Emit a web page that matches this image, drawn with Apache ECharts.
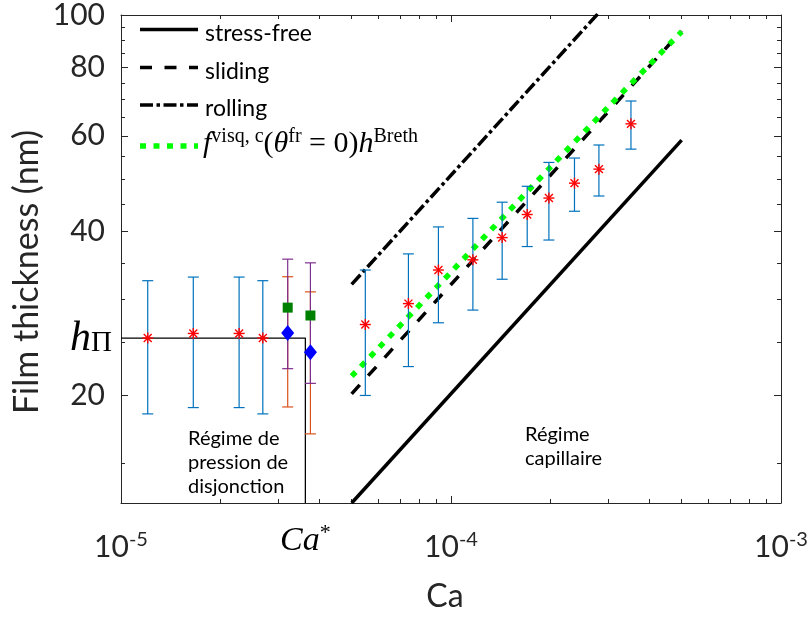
<!DOCTYPE html>
<html>
<head>
<meta charset="utf-8">
<script src="https://cdn.jsdelivr.net/npm/echarts@6/dist/echarts.min.js"></script>
<style>
html,body{margin:0;padding:0;background:#ffffff;}
#chart{width:811px;height:617px;}
</style>
</head>
<body>
<div id="chart"></div>
<script>
// ---------------- data ----------------
// main measurements (red asterisks, blue error bars)
const caMain  = [1.205e-5, 1.656e-5, 2.28e-5, 2.69e-5, 5.50e-5, 7.43e-5, 9.16e-5, 1.165e-4, 1.429e-4, 1.702e-4, 1.980e-4, 2.367e-4, 2.807e-4, 3.51e-4];
const hMain   = [25.5, 26.0, 26.0, 25.5, 27.0, 29.5, 34.0, 35.5, 39.0, 43.0, 46.1, 49.1, 52.1, 63.1];
const errMain = [7.0, 7.0, 7.0, 7.0, 7.0, 6.9, 6.8, 6.8, 6.3, 5.45, 7.5, 5.5, 5.6, 6.4];
// green squares (purple error bars)
const caSquare  = [3.20e-5, 3.75e-5];
const hSquare   = [29.0, 28.05];
const errSquare = [6.6, 7.0];
// blue diamonds (orange error bars)
const caDiamond  = [3.20e-5, 3.75e-5];
const hDiamond   = [26.05, 24.0];
const errDiamond = [7.0, 7.0];
// theoretical laws
const caTheory    = [5e-5, 5e-4];
const hStressFree = [12.69, 58.9];
const hSliding    = [20.14, 93.5];
const hRolling    = [32.0, 148.4];
const caBreth = [5e-5, 1e-4, 2e-4, 3e-4, 5e-4];
const hBreth  = [21.7, 33.7, 52.5, 67.8, 93.2];
// disjoining-pressure regime boundary
const hPi = 25.5;
const caStar = 3.62e-5;
// axis ranges and ticks
const caRange = [1e-5, 1e-3];
const hRange  = [12.69, 100];
const xMajorTicks = [1e-5, 1e-4, 1e-3];
const xMinorTicks = [2e-5, 3e-5, 4e-5, 5e-5, 6e-5, 7e-5, 8e-5, 9e-5, 2e-4, 3e-4, 4e-4, 5e-4, 6e-4, 7e-4, 8e-4, 9e-4];
const xDecadeExp  = [-5, -4, -3];
const yMajorTicks = [20, 40, 60, 80, 100];
const yMinorTicks = [15, 25, 30, 35, 45, 50, 55, 65, 70, 75, 85, 90, 95];
const legendNames = ['stress-free', 'sliding', 'rolling'];

// ---------------- chart ----------------
const L = Math.log10;
const AX = '#262626';
const SANS = 'Lato';
const SERIF = 'Liberation Serif';
const X0 = L(caRange[0]), X1 = L(caRange[1]);
const Y0 = L(hRange[0]), Y1 = L(hRange[1]);

function pts(xs, ys) { return xs.map((x, i) => [L(x), L(ys[i])]); }

function errSeries(xs, ys, es, color, z) {
  return {
    type: 'custom', z: z, silent: true, clip: false,
    encode: { x: 0, y: [1, 2] },
    data: xs.map((x, i) => [L(x), L(ys[i] - es[i]), L(ys[i] + es[i])]),
    renderItem: function (params, api) {
      const x = api.value(0);
      const lo = api.coord([x, api.value(1)]);
      const hi = api.coord([x, api.value(2)]);
      const w = 5.5;
      const st = { stroke: color, lineWidth: 1.2 };
      return { type: 'group', children: [
        { type: 'line', shape: { x1: lo[0], y1: lo[1], x2: hi[0], y2: hi[1] }, style: st },
        { type: 'line', shape: { x1: lo[0] - w, y1: lo[1], x2: lo[0] + w, y2: lo[1] }, style: st },
        { type: 'line', shape: { x1: hi[0] - w, y1: hi[1], x2: hi[0] + w, y2: hi[1] }, style: st }
      ]};
    }
  };
}

function asteriskSeries(xs, ys, color, z) {
  return {
    type: 'custom', z: z, silent: true, clip: false,
    encode: { x: 0, y: 1 },
    data: pts(xs, ys),
    renderItem: function (params, api) {
      const c = api.coord([api.value(0), api.value(1)]);
      const r = 5.5, d = r * 0.72;
      const st = { stroke: color, lineWidth: 1.4 };
      return { type: 'group', children: [
        { type: 'line', shape: { x1: c[0] - r, y1: c[1], x2: c[0] + r, y2: c[1] }, style: st },
        { type: 'line', shape: { x1: c[0], y1: c[1] - r, x2: c[0], y2: c[1] + r }, style: st },
        { type: 'line', shape: { x1: c[0] - d, y1: c[1] - d, x2: c[0] + d, y2: c[1] + d }, style: st },
        { type: 'line', shape: { x1: c[0] - d, y1: c[1] + d, x2: c[0] + d, y2: c[1] - d }, style: st }
      ]};
    }
  };
}

function near(a, b) { return Math.abs(a - b) < 1e-6; }

function baseX(pos, extra) {
  return Object.assign({
    type: 'value', min: X0, max: X1, position: pos, gridIndex: 0,
    axisLine: { show: false, onZero: false },
    axisTick: { show: false },
    axisLabel: { show: false },
    splitLine: { show: false }
  }, extra);
}
function baseY(pos, extra) {
  return Object.assign({
    type: 'value', min: Y0, max: Y1, position: pos, gridIndex: 0,
    axisLine: { show: false, onZero: false },
    axisTick: { show: false },
    axisLabel: { show: false },
    splitLine: { show: false }
  }, extra);
}

const majTick = (vals) => ({ show: true, inside: true, length: 7, customValues: vals, lineStyle: { color: AX, width: 1 } });
const minTick = (vals) => ({ show: true, inside: true, length: 4, customValues: vals, lineStyle: { color: AX, width: 1 } });
const line = { show: true, onZero: false, lineStyle: { color: AX, width: 1 } };

const xAxes = [
  baseX('bottom', {
    axisLine: line,
    axisTick: majTick(xMajorTicks.map(L)),
    axisLabel: {
      show: true, margin: 27,
      customValues: xDecadeExp,
      formatter: function (v) {
        const e = xDecadeExp.find(k => near(k, v));
        return '{b|10}{s|' + e + '}';
      },
      rich: {
        b: { fontFamily: SANS, fontSize: 30, color: AX, lineHeight: 32, verticalAlign: 'bottom' },
        s: { fontFamily: SANS, fontSize: 20, color: AX, lineHeight: 32, verticalAlign: 'top', padding: [0, 0, 14, 0] }
      }
    }
  }),
  baseX('bottom', { axisTick: minTick(xMinorTicks.map(L)) }),
  baseX('bottom', {
    axisLabel: {
      show: true, margin: 19,
      customValues: [L(caStar)],
      formatter: function () { return '{c|Ca}{s|*}'; },
      rich: {
        c: { fontFamily: SERIF, fontStyle: 'italic', fontSize: 34, color: '#000', lineHeight: 36, verticalAlign: 'bottom' },
        s: { fontFamily: SERIF, fontSize: 22, color: '#000', lineHeight: 36, verticalAlign: 'top', padding: [0, 0, 14, 0] }
      }
    }
  }),
  baseX('top', { axisLine: line, axisTick: majTick(xMajorTicks.map(L)) }),
  baseX('top', { axisTick: minTick(xMinorTicks.map(L)) })
];

const yAxes = [
  baseY('left', {
    axisLine: line,
    axisTick: majTick(yMajorTicks.map(L)),
    axisLabel: {
      show: true, margin: 16,
      customValues: yMajorTicks.map(L),
      formatter: function (v) { return String(Math.round(Math.pow(10, v))); },
      fontFamily: SANS, fontSize: 30, color: AX
    }
  }),
  baseY('left', { axisTick: minTick(yMinorTicks.map(L)) }),
  baseY('left', {
    axisLabel: {
      show: true, margin: 9,
      customValues: [L(hPi)],
      formatter: function () { return '{h|h}{p|Π}'; },
      rich: {
        h: { fontFamily: SERIF, fontStyle: 'italic', fontSize: 42, color: '#000', lineHeight: 40, verticalAlign: 'top' },
        p: { fontFamily: SERIF, fontSize: 29, color: '#000', lineHeight: 40, verticalAlign: 'bottom', padding: [14, 0, 0, 0] }
      }
    }
  }),
  baseY('right', { axisLine: line, axisTick: majTick(yMajorTicks.map(L)) }),
  baseY('right', { axisTick: minTick(yMinorTicks.map(L)) })
];

const boundary = [[L(caRange[0]), L(hPi)], [L(caStar), L(hPi)], [L(caStar), L(hRange[0])]];

const series = [
  { type: 'line', name: 'hPi', data: boundary, showSymbol: false, silent: true, z: 2,
    lineStyle: { color: '#000', width: 1.3 } },
  { type: 'line', name: legendNames[0], data: pts(caTheory, hStressFree), showSymbol: false, silent: true, z: 3,
    lineStyle: { color: '#000', width: 3.5, cap: 'butt' } },
  { type: 'line', name: legendNames[1], data: pts(caTheory, hSliding), showSymbol: false, silent: true, z: 3,
    lineStyle: { color: '#000', width: 3.5, type: [12, 12.5], cap: 'butt' } },
  { type: 'line', name: legendNames[2], data: pts(caTheory, hRolling), showSymbol: false, silent: true, z: 3,
    lineStyle: { color: '#000', width: 3.5, type: [13, 3.5, 3.5, 3.5], cap: 'butt' } },
  { type: 'line', name: 'breth', data: pts(caBreth, hBreth), showSymbol: false, silent: true, z: 4, smooth: 0.3,
    lineStyle: { color: '#00ff00', width: 5.5, type: [6, 7.5], cap: 'butt' } },
  errSeries(caMain, hMain, errMain, '#0072BD', 5),
  errSeries(caDiamond, hDiamond, errDiamond, '#D95319', 5),
  errSeries(caSquare, hSquare, errSquare, '#7E2F8E', 6),
  asteriskSeries(caMain, hMain, '#ff0000', 7),
  { type: 'scatter', data: pts(caSquare, hSquare), symbol: 'rect', symbolSize: 10, silent: true, z: 8,
    itemStyle: { color: '#008000', opacity: 1 } },
  { type: 'scatter', data: pts(caDiamond, hDiamond), symbol: 'diamond', symbolSize: [13, 16], silent: true, z: 8,
    itemStyle: { color: '#0000ff', opacity: 1 } }
];

// legend drawn as graphics (line samples + labels)
const legendRows = [
  { y: 29.5, dash: null, color: '#000', w: 3.5, label: legendNames[0] },
  { y: 67.5, dash: [12, 12.5], color: '#000', w: 3.5, label: legendNames[1] },
  { y: 105, dash: [13, 3.5, 3.5, 3.5], color: '#000', w: 3.5, label: legendNames[2] },
  { y: 146, dash: [6, 7.5], color: '#00ff00', w: 5.5, label: null }
];
const graphics = [];
legendRows.forEach(r => {
  graphics.push({ type: 'line', silent: true, z: 100,
    shape: { x1: 140, y1: r.y, x2: 198, y2: r.y },
    style: { stroke: r.color, lineWidth: r.w, lineDash: r.dash, lineCap: 'butt' } });
  if (r.label) {
    graphics.push({ type: 'text', silent: true, z: 100, x: 205, y: r.y + 4,
      style: { text: r.label, fontFamily: SANS, fontSize: 23, fill: '#000', verticalAlign: 'middle', align: 'left' } });
  }
});
graphics.push({ type: 'text', silent: true, z: 100, x: 203, y: 159,
  style: {
    text: '{mi|f}{s|visq, c}{m|(}{mi|θ}{s|fr}{m| = 0)}{mi|h}{s|Breth}',
    verticalAlign: 'bottom', align: 'left',
    rich: {
      m: { fontFamily: SERIF, fontSize: 30, fill: '#000', lineHeight: 32, verticalAlign: 'bottom' },
      mi: { fontFamily: SERIF, fontStyle: 'italic', fontSize: 30, fill: '#000', lineHeight: 32, verticalAlign: 'bottom' },
      s: { fontFamily: SERIF, fontSize: 20, fill: '#000', lineHeight: 32, verticalAlign: 'top', padding: [0, 0, 13, 0] }
    }
  }
});

// region annotations
graphics.push({ type: 'text', silent: true, z: 100, x: 188, y: 427,
  style: { text: 'Régime de\npression de\ndisjonction', fontFamily: SANS, fontSize: 20, lineHeight: 24, fill: '#000', align: 'left', verticalAlign: 'top' } });
graphics.push({ type: 'text', silent: true, z: 100, x: 525, y: 423,
  style: { text: 'Régime\ncapillaire', fontFamily: SANS, fontSize: 20, lineHeight: 23.5, fill: '#000', align: 'left', verticalAlign: 'top' } });
// axis titles
graphics.push({ type: 'text', silent: true, z: 100, x: 445, y: 597,
  style: { text: 'Ca', fontFamily: SANS, fontSize: 32, fill: AX, align: 'center', verticalAlign: 'middle' } });
graphics.push({ type: 'text', silent: true, z: 100, x: 27, y: 272, rotation: Math.PI / 2,
  style: { text: 'Film thickness (nm)', fontFamily: SANS, fontSize: 34, fill: AX, align: 'center', verticalAlign: 'middle' } });

const chart = echarts.init(document.getElementById('chart'), null, { renderer: 'canvas' });
chart.setOption({
  animation: false,
  backgroundColor: '#ffffff',
  grid: { left: 121, top: 11, width: 660, height: 492, containLabel: false },
  xAxis: xAxes,
  yAxis: yAxes,
  series: series,
  graphic: graphics
});
</script>
</body>
</html>
